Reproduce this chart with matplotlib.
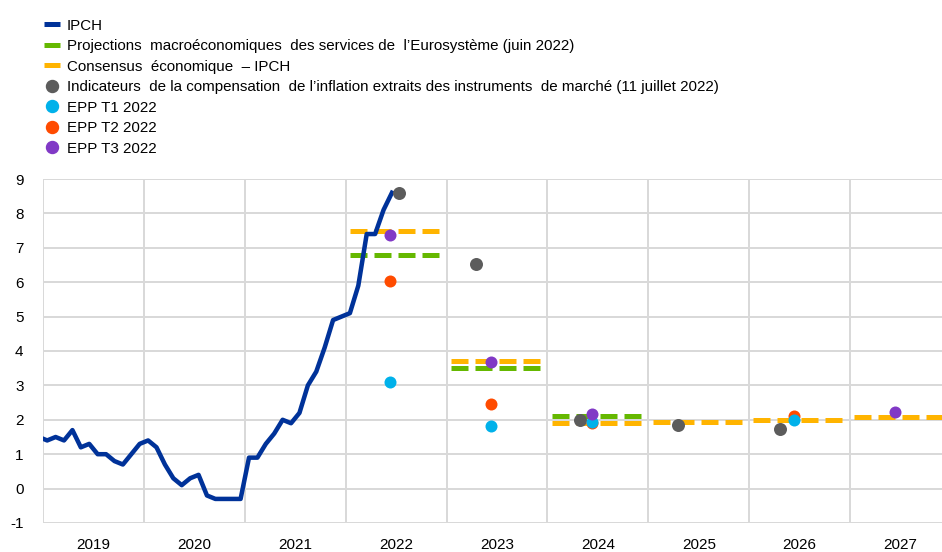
import numpy as np
import matplotlib
matplotlib.use("Agg")
import matplotlib.pyplot as plt
from matplotlib.lines import Line2D

plt.rcParams["font.family"] = ["Liberation Sans", "DejaVu Sans"]
plt.rcParams["lines.scale_dashes"] = False
plt.rcParams["axes.unicode_minus"] = False

# IPCH monthly, Dec 2018 .. Jun 2022
ipch_start = (2018, 12)
ipch = [1.5,
        1.4, 1.5, 1.4, 1.7, 1.2, 1.3, 1.0, 1.0, 0.8, 0.7, 1.0, 1.3,
        1.4, 1.2, 0.7, 0.3, 0.1, 0.3, 0.4, -0.2, -0.3, -0.3, -0.3, -0.3,
        0.9, 0.9, 1.3, 1.6, 2.0, 1.9, 2.2, 3.0, 3.4, 4.1, 4.9, 5.0,
        5.1, 5.9, 7.4, 7.4, 8.1, 8.6]

# annual projections
proj_years = [2022, 2023, 2024]
proj_vals = [6.8, 3.5, 2.1]
cons_years = [2022, 2023, 2024, 2025, 2026, 2027]
cons_vals = [7.5, 3.7, 1.9, 1.95, 2.0, 2.07]

# market-based indicators (11 July 2022)
mkt_x = [2022.53, 2023.29, 2024.32, 2025.29, 2026.30]
mkt_vals = [8.6, 6.53, 2.0, 1.84, 1.72]

# SPF rounds
t1_years = [2022, 2023, 2024, 2026]
t1_vals = [3.09, 1.81, 1.93, 1.99]
t2_years = [2022, 2023, 2024, 2026]
t2_vals = [6.04, 2.46, 1.92, 2.12]
t3_years = [2022, 2023, 2024, 2027]
t3_vals = [7.37, 3.67, 2.17, 2.23]

year_labels = ["2019", "2020", "2021", "2022", "2023", "2024", "2025", "2026", "2027"]

c_blue = "#003299"
c_green = "#65b800"
c_orange = "#ffb400"
c_grey = "#5c5c5c"
c_cyan = "#00b1ea"
c_red = "#ff4b00"
c_purple = "#8139c6"

px = 72 / 100.0  # points per pixel at dpi=100

fig = plt.figure(figsize=(9.42, 5.52), dpi=100)
ax = fig.add_axes([43 / 942, 29 / 552, 1 - 43 / 942, (523 - 179) / 552])

# monthly x positions (mid-month)
n = len(ipch)
months = np.arange(n)
ipch_x = ipch_start[0] + (ipch_start[1] - 1 + months + 0.5) / 12.0
ax.plot(ipch_x, ipch, color=c_blue, lw=4.5 * px, zorder=4, solid_joinstyle="round")

dash = (0, (17 * px, 7 * px))
for y, v in zip(proj_years, proj_vals):
    ax.plot([y + 0.5 / 12, y + 11.5 / 12], [v, v], color=c_green, lw=5 * px,
            linestyle=dash, zorder=3)
for y, v in zip(cons_years, cons_vals):
    ax.plot([y + 0.5 / 12, y + 11.5 / 12], [v, v], color=c_orange, lw=5 * px,
            linestyle=dash, zorder=3)

ax.scatter(mkt_x, mkt_vals, s=(13 * px) ** 2, color=c_grey, zorder=5, linewidths=0)
ax.scatter(np.array(t2_years) + 0.44, t2_vals, s=(12 * px) ** 2, color=c_red, zorder=5, linewidths=0)
ax.scatter(np.array(t1_years) + 0.44, t1_vals, s=(12 * px) ** 2, color=c_cyan, zorder=6, linewidths=0)
ax.scatter(np.array(t3_years) + 0.44, t3_vals, s=(12 * px) ** 2, color=c_purple, zorder=7, linewidths=0)

ax.set_xlim(2019, 2027.91)
ax.set_ylim(-1, 9)
ax.set_yticks(range(-1, 10))
ax.set_xticks(range(2019, 2028))
ax.set_xticklabels([])
ax.set_xticks(np.arange(2019, 2028) + 0.5, minor=True)
ax.set_xticklabels(year_labels, minor=True)
ax.tick_params(axis="x", which="both", length=0, labelsize=11, pad=11)
ax.tick_params(axis="y", length=0, labelsize=11, pad=14)
ax.grid(True, which="major", color="#d9d9d9", lw=2 * px, zorder=0)
for s in ax.spines.values():
    s.set_visible(False)
ax.set_axisbelow(True)

handles = [
    Line2D([], [], color=c_blue, lw=5 * px, solid_capstyle="butt"),
    Line2D([], [], color=c_green, lw=5 * px, solid_capstyle="butt"),
    Line2D([], [], color=c_orange, lw=5 * px, solid_capstyle="butt"),
    Line2D([], [], marker="o", ls="none", color=c_grey, markersize=12 * px),
    Line2D([], [], marker="o", ls="none", color=c_cyan, markersize=12 * px),
    Line2D([], [], marker="o", ls="none", color=c_red, markersize=12 * px),
    Line2D([], [], marker="o", ls="none", color=c_purple, markersize=12 * px),
]
labels = [
    "IPCH",
    "Projections  macroéconomiques  des services de  l\u2019Eurosystème (juin 2022)",
    "Consensus  économique  \u2013 IPCH",
    "Indicateurs  de la compensation  de l\u2019inflation extraits des instruments  de marché (11 juillet 2022)",
    "EPP T1 2022",
    "EPP T2 2022",
    "EPP T3 2022",
]
fig.legend(handles, labels, loc="upper left", bbox_to_anchor=(44 / 942, 1 - 18.5 / 552),
           frameon=False, fontsize=10.9, handlelength=1.05, handletextpad=0.45,
           labelspacing=0.43, borderpad=0, borderaxespad=0)

fig.savefig("out.png", dpi=100)
